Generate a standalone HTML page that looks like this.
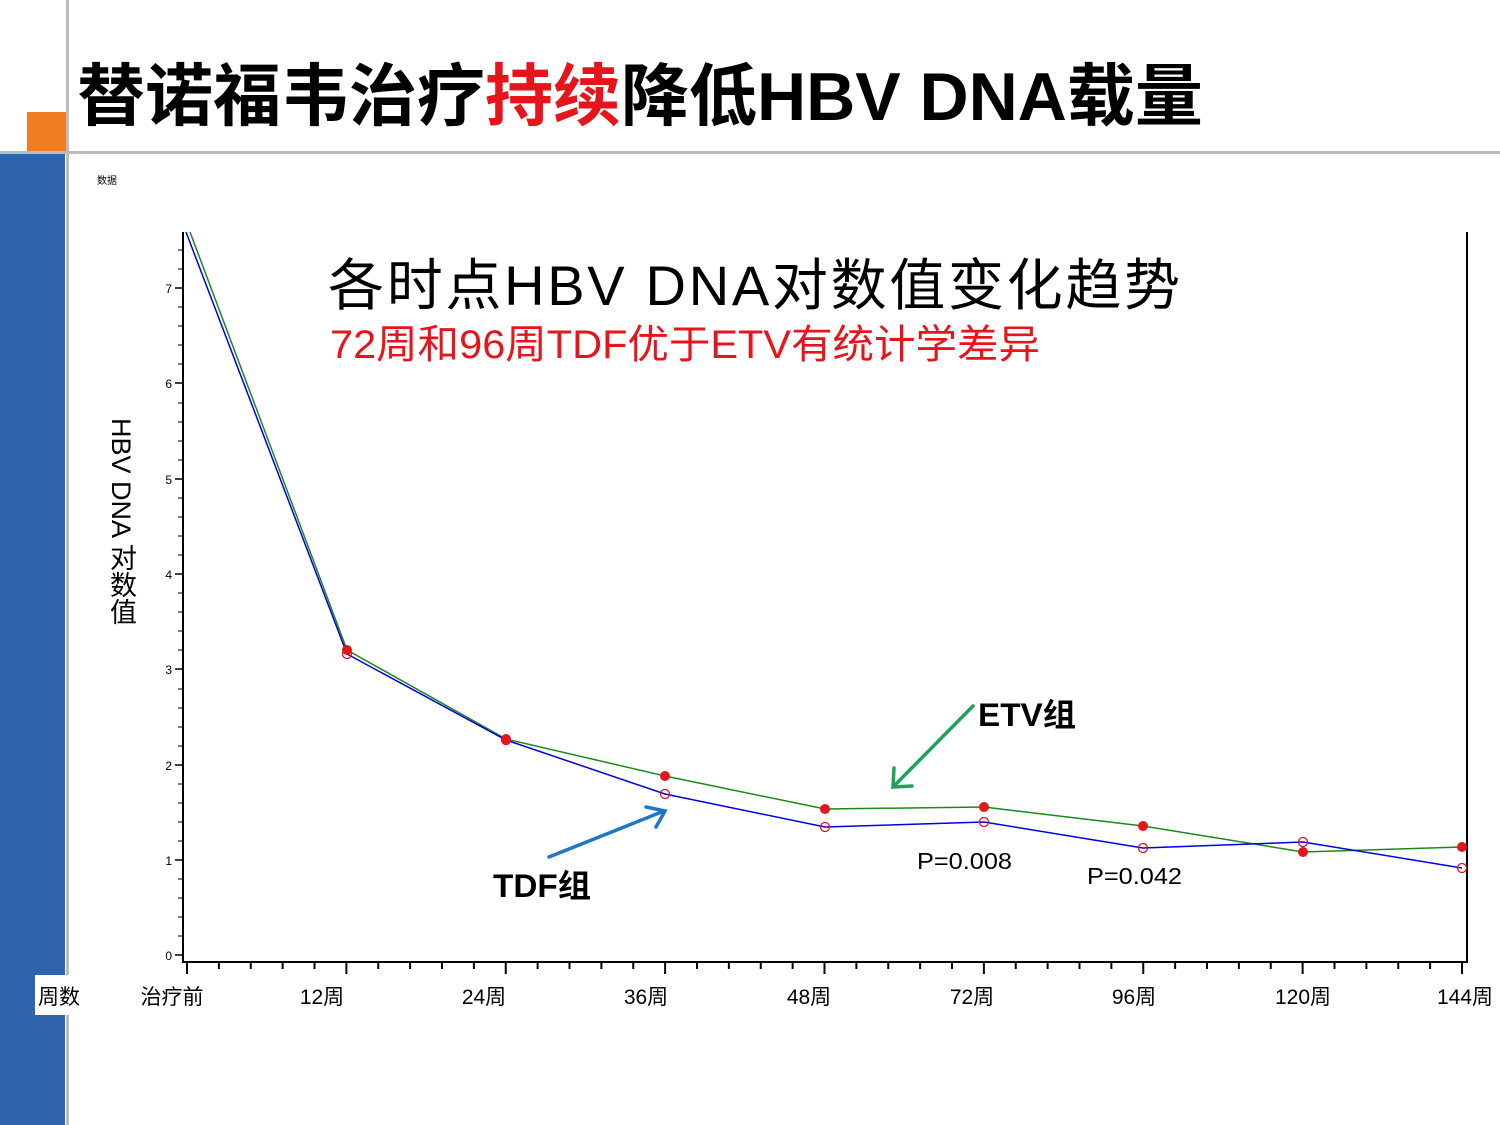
<!DOCTYPE html>
<html><head><meta charset="utf-8"><style>
html,body{margin:0;padding:0;background:#fff;}
body{width:1500px;height:1125px;position:relative;overflow:hidden;font-family:"Liberation Sans","Noto Sans CJK SC",sans-serif;}
#yl{position:absolute;left:105px;top:418px;writing-mode:vertical-rl;text-orientation:mixed;font-size:27px;line-height:32px;color:#000;font-family:"Liberation Sans","Noto Sans CJK SC",sans-serif;white-space:nowrap;}
</style></head><body>
<svg width="1500" height="1125" viewBox="0 0 1500 1125" xmlns="http://www.w3.org/2000/svg" style="position:absolute;left:0;top:0">
<rect x="0" y="154" width="65" height="971" fill="#2e63ae"/>
<rect x="27" y="112" width="39" height="39" fill="#f07d22"/>
<rect x="66" y="0" width="3" height="1125" fill="#bbb"/>
<rect x="0" y="151" width="1500" height="3" fill="#bbb"/>
<text x="77" y="120" font-size="68" font-weight="bold" font-family="'Liberation Sans','Noto Sans CJK SC',sans-serif" fill="#000">替诺福韦治疗<tspan fill="#e8141b">持续</tspan>降低HBV DNA载量</text>
<text x="97" y="184" font-size="10" fill="#000" font-family="'Noto Sans CJK SC',sans-serif">数据</text>
<text x="328" y="305" font-size="56" fill="#000" textLength="852" lengthAdjust="spacing" font-family="'Liberation Sans','Noto Sans CJK SC',sans-serif">各时点HBV DNA对数值变化趋势</text>
<text x="330" y="358" font-size="40" fill="#e8141b" textLength="710" lengthAdjust="spacingAndGlyphs" font-family="'Liberation Sans','Noto Sans CJK SC',sans-serif">72周和96周TDF优于ETV有统计学差异</text>
<g stroke="#000" stroke-width="2" fill="none">
<line x1="183" y1="232" x2="183" y2="963"/>
<line x1="183" y1="962" x2="1468" y2="962"/>
<line x1="1467" y1="232" x2="1467" y2="963"/>
</g>
<g stroke="#000" stroke-width="1.5">
<line x1="175" y1="955" x2="183" y2="955"/><line x1="175" y1="860" x2="183" y2="860"/><line x1="175" y1="765" x2="183" y2="765"/><line x1="175" y1="669" x2="183" y2="669"/><line x1="175" y1="574" x2="183" y2="574"/><line x1="175" y1="479" x2="183" y2="479"/><line x1="175" y1="383" x2="183" y2="383"/><line x1="175" y1="288" x2="183" y2="288"/>
</g>
<g stroke="#000" stroke-width="1">
<line x1="178" y1="936" x2="183" y2="936"/><line x1="178" y1="917" x2="183" y2="917"/><line x1="178" y1="898" x2="183" y2="898"/><line x1="178" y1="879" x2="183" y2="879"/>
<line x1="178" y1="841" x2="183" y2="841"/><line x1="178" y1="822" x2="183" y2="822"/><line x1="178" y1="803" x2="183" y2="803"/><line x1="178" y1="784" x2="183" y2="784"/>
<line x1="178" y1="746" x2="183" y2="746"/><line x1="178" y1="727" x2="183" y2="727"/><line x1="178" y1="708" x2="183" y2="708"/><line x1="178" y1="689" x2="183" y2="689"/>
<line x1="178" y1="650" x2="183" y2="650"/><line x1="178" y1="631" x2="183" y2="631"/><line x1="178" y1="612" x2="183" y2="612"/><line x1="178" y1="593" x2="183" y2="593"/>
<line x1="178" y1="555" x2="183" y2="555"/><line x1="178" y1="536" x2="183" y2="536"/><line x1="178" y1="517" x2="183" y2="517"/><line x1="178" y1="498" x2="183" y2="498"/>
<line x1="178" y1="460" x2="183" y2="460"/><line x1="178" y1="441" x2="183" y2="441"/><line x1="178" y1="422" x2="183" y2="422"/><line x1="178" y1="403" x2="183" y2="403"/>
<line x1="178" y1="364" x2="183" y2="364"/><line x1="178" y1="345" x2="183" y2="345"/><line x1="178" y1="326" x2="183" y2="326"/><line x1="178" y1="307" x2="183" y2="307"/>
<line x1="178" y1="269" x2="183" y2="269"/><line x1="178" y1="250" x2="183" y2="250"/>
</g>
<g font-size="12" text-anchor="end" fill="#000">
<text x="172" y="960">0</text><text x="172" y="865">1</text><text x="172" y="770">2</text><text x="172" y="674">3</text><text x="172" y="579">4</text><text x="172" y="484">5</text><text x="172" y="388">6</text><text x="172" y="293">7</text>
</g>
<g id="xt" stroke="#000" stroke-width="2"></g>
<g font-size="21" fill="#000" text-anchor="middle" font-family="'Liberation Sans','Noto Sans CJK SC',sans-serif">
<text x="172" y="1004">治疗前</text><text x="322" y="1004">12周</text><text x="484" y="1004">24周</text><text x="646" y="1004">36周</text><text x="809" y="1004">48周</text><text x="972" y="1004">72周</text><text x="1134" y="1004">96周</text><text x="1303" y="1004">120周</text><text x="1465" y="1004">144周</text>
</g>
<rect x="35" y="975" width="58" height="40" fill="#fff"/>
<text x="38" y="1004" font-size="21" fill="#000" font-family="'Noto Sans CJK SC',sans-serif">周数</text>
<polyline fill="none" stroke="#1a8a1a" stroke-width="1.5" points="190,232 347,650 506,739 665,776 825,809 984,807 1143,826 1303,852 1462,847"/>
<polyline fill="none" stroke="#0000e0" stroke-width="1.5" points="186,232 347,654 506,740 665,794 825,827 984,822 1143,848 1303,842 1462,868"/>
<g fill="#e8141b">
<circle cx="347" cy="650" r="5"/><circle cx="506" cy="739" r="5"/><circle cx="665" cy="776" r="5"/><circle cx="825" cy="809" r="5"/><circle cx="984" cy="807" r="5"/><circle cx="1143" cy="826" r="5"/><circle cx="1303" cy="852" r="5"/><circle cx="1462" cy="847" r="5"/>
</g>
<g fill="none" stroke="#e8141b" stroke-width="1.3">
<circle cx="347" cy="654" r="4.5"/><circle cx="506" cy="740" r="4.5"/><circle cx="665" cy="794" r="4.5"/><circle cx="825" cy="827" r="4.5"/><circle cx="984" cy="822" r="4.5"/><circle cx="1143" cy="848" r="4.5"/><circle cx="1303" cy="842" r="4.5"/><circle cx="1462" cy="868" r="4.5"/>
</g>
<g stroke="#1aa35a" stroke-width="3.5" fill="none" stroke-linecap="round">
<line x1="973" y1="706" x2="894" y2="786"/><polyline points="894,768 893,787 912,786"/>
</g>
<g stroke="#1f77c4" stroke-width="3.5" fill="none" stroke-linecap="round">
<line x1="549" y1="857" x2="664" y2="811"/><polyline points="646,807 665,811 656,827"/>
</g>
<text x="978" y="726" font-size="32" font-weight="bold" fill="#000" textLength="98" lengthAdjust="spacingAndGlyphs" font-family="'Liberation Sans','Noto Sans CJK SC',sans-serif">ETV组</text>
<text x="493" y="897" font-size="32" font-weight="bold" fill="#000" textLength="98" lengthAdjust="spacingAndGlyphs" font-family="'Liberation Sans','Noto Sans CJK SC',sans-serif">TDF组</text>
<text x="917" y="869" font-size="23" fill="#000" textLength="95" lengthAdjust="spacingAndGlyphs">P=0.008</text>
<text x="1087" y="884" font-size="23" fill="#000" textLength="95" lengthAdjust="spacingAndGlyphs">P=0.042</text>
</svg>
<div id="yl">HBV DNA 对数值</div>
<script>
var g=document.getElementById('xt'),s='';
for(var i=0;i<=40;i++){var x=187+i*(1462-187)/40;var L=(i%5==0)?12:7;s+='<line x1="'+x+'" y1="962" x2="'+x+'" y2="'+(962+L)+'"/>';}
g.innerHTML=s;
</script>
</body></html>
